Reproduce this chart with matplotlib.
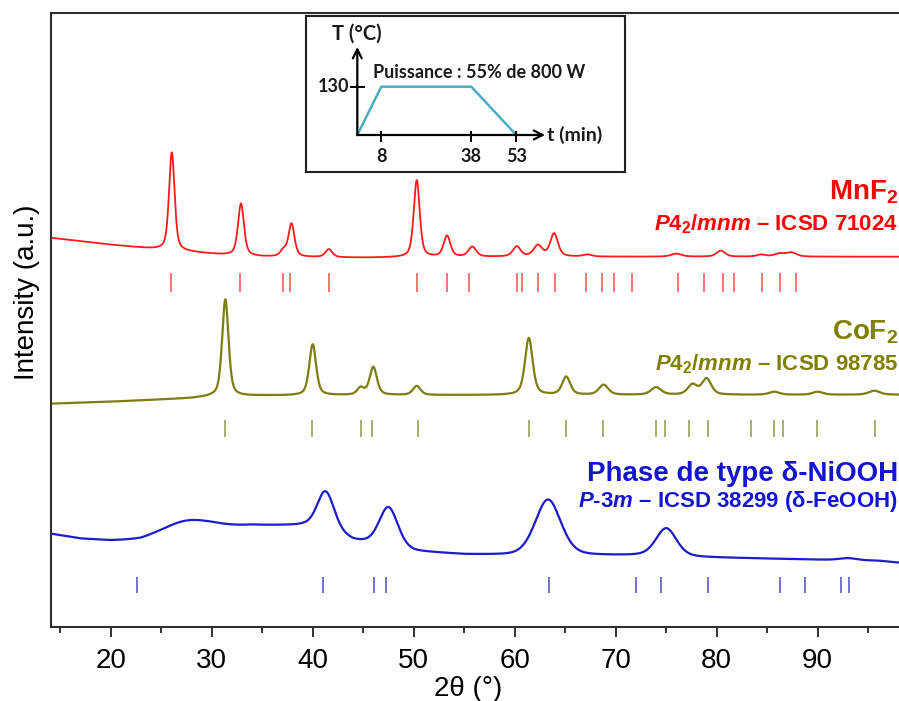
import numpy as np
import matplotlib
matplotlib.use('Agg')
import matplotlib.pyplot as plt
from matplotlib.ticker import MultipleLocator

plt.rcParams['font.family'] = ['Liberation Sans', 'DejaVu Sans']
plt.rcParams['mathtext.fontset'] = 'custom'
plt.rcParams['mathtext.rm'] = 'Liberation Sans:bold'
plt.rcParams['mathtext.it'] = 'Liberation Sans:bold:italic'
plt.rcParams['mathtext.bf'] = 'Liberation Sans:bold'

# --- diffractogrammes : fond (2theta, intensite) et pics (position, hauteur, largeur)
mn_bg_x = [14, 20, 24, 31, 35, 45, 60, 98.1]
mn_bg_y = [389, 382, 378, 372, 370, 369, 370, 370]
mn_peaks = [(26.05, 98, 0.65), (32.9, 52, 0.7), (37.1, 6, 0.7), (37.9, 33, 0.7),
            (41.6, 8, 0.8), (50.3, 77, 0.7), (53.3, 21, 0.8), (55.8, 10, 0.9),
            (60.2, 10, 0.9), (62.3, 11, 1.0), (63.9, 23, 0.9), (67.2, 2, 1.0),
            (76.0, 3, 1.2), (80.4, 6, 1.0), (84.4, 2, 1.0), (86.2, 3, 1.2),
            (87.4, 4, 1.2)]
mn_refs = [26.0, 32.8, 37.1, 37.8, 41.6, 50.3, 53.3, 55.5, 60.2, 60.7, 62.3, 64.0,
           67.1, 68.6, 69.8, 71.6, 76.2, 78.7, 80.6, 81.7, 84.5, 86.3, 87.9]

co_bg_x = [14, 20, 28, 30, 35, 45, 98.1]
co_bg_y = [223, 225, 228.5, 230, 231, 231.5, 232]
co_peaks = [(31.35, 97, 0.75), (40.0, 51, 0.8), (44.75, 7, 0.8), (46.0, 28, 0.85),
            (50.3, 9, 0.9), (61.4, 57, 0.9), (65.1, 18, 0.95), (68.8, 10, 1.1),
            (74.0, 7.5, 1.2), (77.6, 10, 1.1), (79.0, 16, 1.1), (85.7, 3, 1.2),
            (90.0, 3, 1.2), (95.6, 4, 1.3)]
co_refs = [31.3, 39.9, 44.8, 45.9, 50.4, 61.4, 65.1, 68.7, 74.0, 74.85, 77.3, 79.1,
           83.4, 85.7, 86.6, 89.9, 95.7]

ni_bg_x = [14, 17, 20, 23, 30, 34, 39, 41, 44, 47, 50, 55, 60, 72, 80, 90, 96, 98.1]
ni_bg_y = [93, 88, 86, 86, 97, 101, 101, 99, 86, 80, 75, 72, 71, 71, 69, 67, 66, 64]
ni_peaks = [(27.5, 13, 6.0), (41.3, 37, 2.0), (47.5, 40, 2.2), (63.3, 56, 3.0),
            (75.0, 28, 2.4), (93.0, 2, 2.0)]
ni_refs = [22.6, 41.0, 46.1, 47.3, 63.4, 72.0, 74.5, 79.1, 86.3, 88.7, 92.3, 93.1]

# programme micro-ondes
t_min = [0, 8, 38, 53]
T_C = [0, 130, 130, 0]


def profile(x, bg_x, bg_y, peaks, eta):
    y = np.interp(x, bg_x, bg_y)
    for pos, h, w in peaks:
        u = (x - pos) / w
        y = y + h * (eta / (1 + 4 * u**2) + (1 - eta) * np.exp(-4 * np.log(2) * u**2))
    return y


fig = plt.figure(figsize=(8.99, 7.01), dpi=100)
ax = fig.add_axes([50.7 / 899, 74.3 / 701, 848.3 / 899, 613.4 / 701])

x = np.linspace(14, 98.1, 4000)
ax.plot(x, profile(x, mn_bg_x, mn_bg_y, mn_peaks, 0.5), color='#ff1a1a', lw=1.3)
ax.plot(x, profile(x, co_bg_x, co_bg_y, co_peaks, 0.5), color='#7d7d12', lw=1.6)
ax.plot(x, profile(x, ni_bg_x, ni_bg_y, ni_peaks, 0.3), color='#1c1cc8', lw=1.6)

ax.vlines(mn_refs, 335, 354, color='#ff4d4d', lw=1.1)
ax.vlines(co_refs, 190, 207, color='#8e9a45', lw=1.1)
ax.vlines(ni_refs, 34, 50, color='#4d4dd0', lw=1.1)

ax.set_xlim(14.06, 98.05)
ax.set_ylim(0, 613.4)
ax.set_yticks([])
ax.xaxis.set_major_locator(MultipleLocator(10))
ax.xaxis.set_minor_locator(MultipleLocator(5))
ax.tick_params(axis='x', which='major', direction='out', length=7.5, width=1.4,
               labelsize=20, pad=8, color='#303030')
ax.tick_params(axis='x', which='minor', direction='out', length=4.5, width=1.4, color='#303030')
ax.spines['right'].set_visible(False)
for s in ['left', 'bottom', 'top']:
    ax.spines[s].set_linewidth(1.5)
    ax.spines[s].set_color('#303030')

fig.text(27.5 / 899, 1 - 292 / 701, 'Intensity (a.u.)', rotation=90,
         ha='center', va='center', fontsize=20)
fig.text(468 / 899, 1 - 696 / 701, '2θ (°)', ha='center', va='baseline', fontsize=20)

# etiquettes des phases
xr = 898 / 899
fig.text(xr, 1 - 200 / 701, r'MnF$_\mathrm{2}$', color='#ff0000', fontsize=20,
         fontweight='bold', ha='right', va='baseline')
fig.text(xr, 1 - 230 / 701, r'$\mathit{P4_2/mnm}$ – ICSD 71024', color='#ff0000',
         fontsize=16, fontweight='bold', ha='right', va='baseline')
fig.text(xr, 1 - 339 / 701, r'CoF$_\mathrm{2}$', color='#7f7f00', fontsize=20,
         fontweight='bold', ha='right', va='baseline')
fig.text(xr, 1 - 370 / 701, r'$\mathit{P4_2/mnm}$ – ICSD 98785', color='#7f7f00',
         fontsize=16, fontweight='bold', ha='right', va='baseline')
fig.text(xr, 1 - 480.7 / 701, 'Phase de type δ-NiOOH', color='#1515d0', fontsize=20,
         fontweight='bold', ha='right', va='baseline')
fig.text(xr, 1 - 507 / 701, r'$\mathit{P}$-$\mathit{3m}$ – ICSD 38299 (δ-FeOOH)',
         color='#1515d0', fontsize=16, fontweight='bold', ha='right', va='baseline')

# encart : programme de chauffage
ins = fig.add_axes([306 / 899, 1 - 172 / 701, 319 / 899, 156.3 / 701])
ins.set_xlim(-17.1, 89.23)
ins.set_ylim(-99.6, 321.1)
ins.set_xticks([])
ins.set_yticks([])
for s in ins.spines.values():
    s.set_linewidth(1.5)
    s.set_color('#202020')

ins.plot(t_min, T_C, color='#4bacc6', lw=1.8, zorder=2)
arrow = dict(arrowstyle='->', lw=1.6, color='black', mutation_scale=16, shrinkA=0, shrinkB=0)
ins.annotate('', xy=(0, 237), xytext=(0, 0), arrowprops=arrow)
ins.annotate('', xy=(62.6, 0), xytext=(0, 0), arrowprops=arrow)
ins.vlines(t_min[1:], -18, 11.6, color='black', lw=1.4)
ins.hlines(T_C[1], -2.5, 2.5, color='black', lw=1.4)

ifont = dict(family=['Lato', 'DejaVu Sans'], fontweight='bold', fontsize=13, color='#1a1a1a')
for t in t_min[1:]:
    ins.text(t, -59, str(t), ha='center', va='center', **ifont)
ins.text(-2.8, T_C[1], str(T_C[1]), ha='right', va='center', **ifont)
ins.text(-0.3, 272, 'T (°C)', ha='center', va='center',
         **{**ifont, 'fontsize': 14.5})
ins.text(63.2, 0, 't (min)', ha='left', va='center', **{**ifont, 'fontsize': 14})
ins.text(5.1, 167.7, 'Puissance : 55% de 800 W', ha='left', va='center', **ifont)

fig.savefig('out.png', dpi=100)
